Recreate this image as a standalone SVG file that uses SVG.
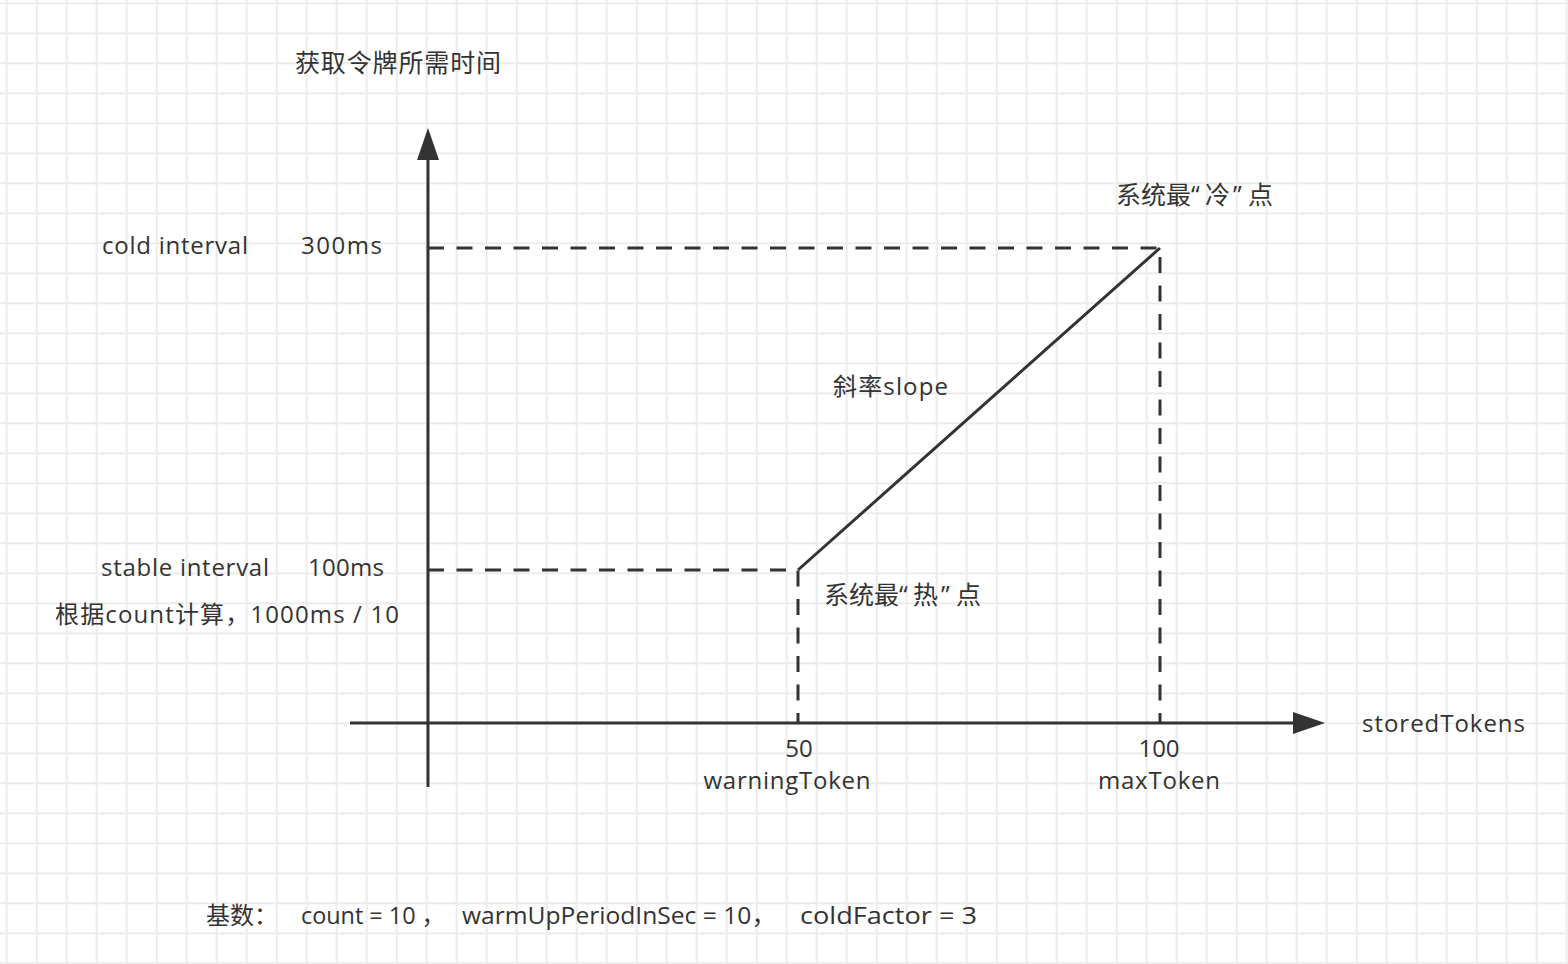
<svg xmlns="http://www.w3.org/2000/svg" width="1568" height="964" viewBox="0 0 1568 964">
  <style>
    .t { font-family: "Open Sans", "Noto Sans CJK SC", sans-serif; font-size: 24px; fill: #333333; }
    .cn { font-size: 25px; }
    .axis { stroke: #333333; stroke-width: 3; fill: none; }
    .dash { stroke: #333333; stroke-width: 3; fill: none; stroke-dasharray: 16 12.5; }
    .solid { stroke: #333333; stroke-width: 3; fill: none; }
  </style>
  <defs>
    <pattern id="gridPat" x="5.7" y="2.3" width="30" height="30" patternUnits="userSpaceOnUse">
      <rect x="0" y="0" width="30" height="2" fill="#ececec"/>
      <rect x="0" y="0" width="2" height="30" fill="#ececec"/>
    </pattern>
    <marker id="arrow" viewBox="0 0 32 22" refX="0" refY="11" markerWidth="32" markerHeight="22" markerUnits="userSpaceOnUse" orient="auto">
      <path d="M0 0 L32 11 L0 22 Z" fill="#333333"/>
    </marker>
  </defs>

  <g id="background">
    <rect x="0" y="0" width="1568" height="964" fill="#ffffff"/>
    <rect x="0" y="0" width="1568" height="964" fill="url(#gridPat)"/>
  </g>

  <g id="connectors">
    <line id="y-axis" class="axis" x1="428" y1="787" x2="428" y2="160" marker-end="url(#arrow)"/>
    <line id="x-axis" class="axis" x1="350" y1="723" x2="1293" y2="723" marker-end="url(#arrow)"/>
    <polyline id="cold-guide" class="dash" points="428,248 1160,248 1160,723"/>
    <polyline id="stable-guide" class="dash" points="428,570 798,570 798,723"/>
    <line id="slope-line" class="solid" x1="798" y1="570" x2="1160" y2="248"/>
  </g>

  <g id="y-axis-title">
    <text class="t cn" x="295" y="72" textLength="206">获取令牌所需时间</text>
  </g>
  <g id="cold-interval">
    <text class="t" x="102" y="254" textLength="146">cold interval</text>
    <text class="t" x="301" y="254" textLength="81">300ms</text>
  </g>
  <g id="cold-point">
    <text class="t cn" x="1116 1141 1166 1191 1205 1233 1248" y="204">系统最“冷”点</text>
  </g>
  <g id="slope-label">
    <text class="t" x="833" y="395" textLength="115">斜率slope</text>
  </g>
  <g id="stable-interval">
    <text class="t" x="101" y="576" textLength="168">stable interval</text>
    <text class="t" x="308" y="576" textLength="76">100ms</text>
    <text class="t" x="55" y="623" textLength="344">根据count计算，1000ms / 10</text>
  </g>
  <g id="hot-point">
    <text class="t cn" x="824 849 874 899 913 941 956" y="604">系统最“热”点</text>
  </g>
  <g id="x-axis-title">
    <text class="t" x="1362" y="732" textLength="163">storedTokens</text>
  </g>
  <g id="warning-token">
    <text class="t" x="799" y="757" text-anchor="middle">50</text>
    <text class="t" x="787" y="789" text-anchor="middle" textLength="167">warningToken</text>
  </g>
  <g id="max-token">
    <text class="t" x="1159" y="757" text-anchor="middle">100</text>
    <text class="t" x="1159" y="789" text-anchor="middle" textLength="122">maxToken</text>
  </g>
  <g id="base-params">
    <text class="t" x="206" y="924">基数：</text>
    <text class="t" x="301" y="924" textLength="144" lengthAdjust="spacingAndGlyphs">count = 10 ，</text>
    <text class="t" x="462" y="924" textLength="314" lengthAdjust="spacingAndGlyphs">warmUpPeriodInSec = 10，</text>
    <text class="t" x="800" y="924" textLength="177" lengthAdjust="spacingAndGlyphs">coldFactor = 3</text>
  </g>
</svg>
